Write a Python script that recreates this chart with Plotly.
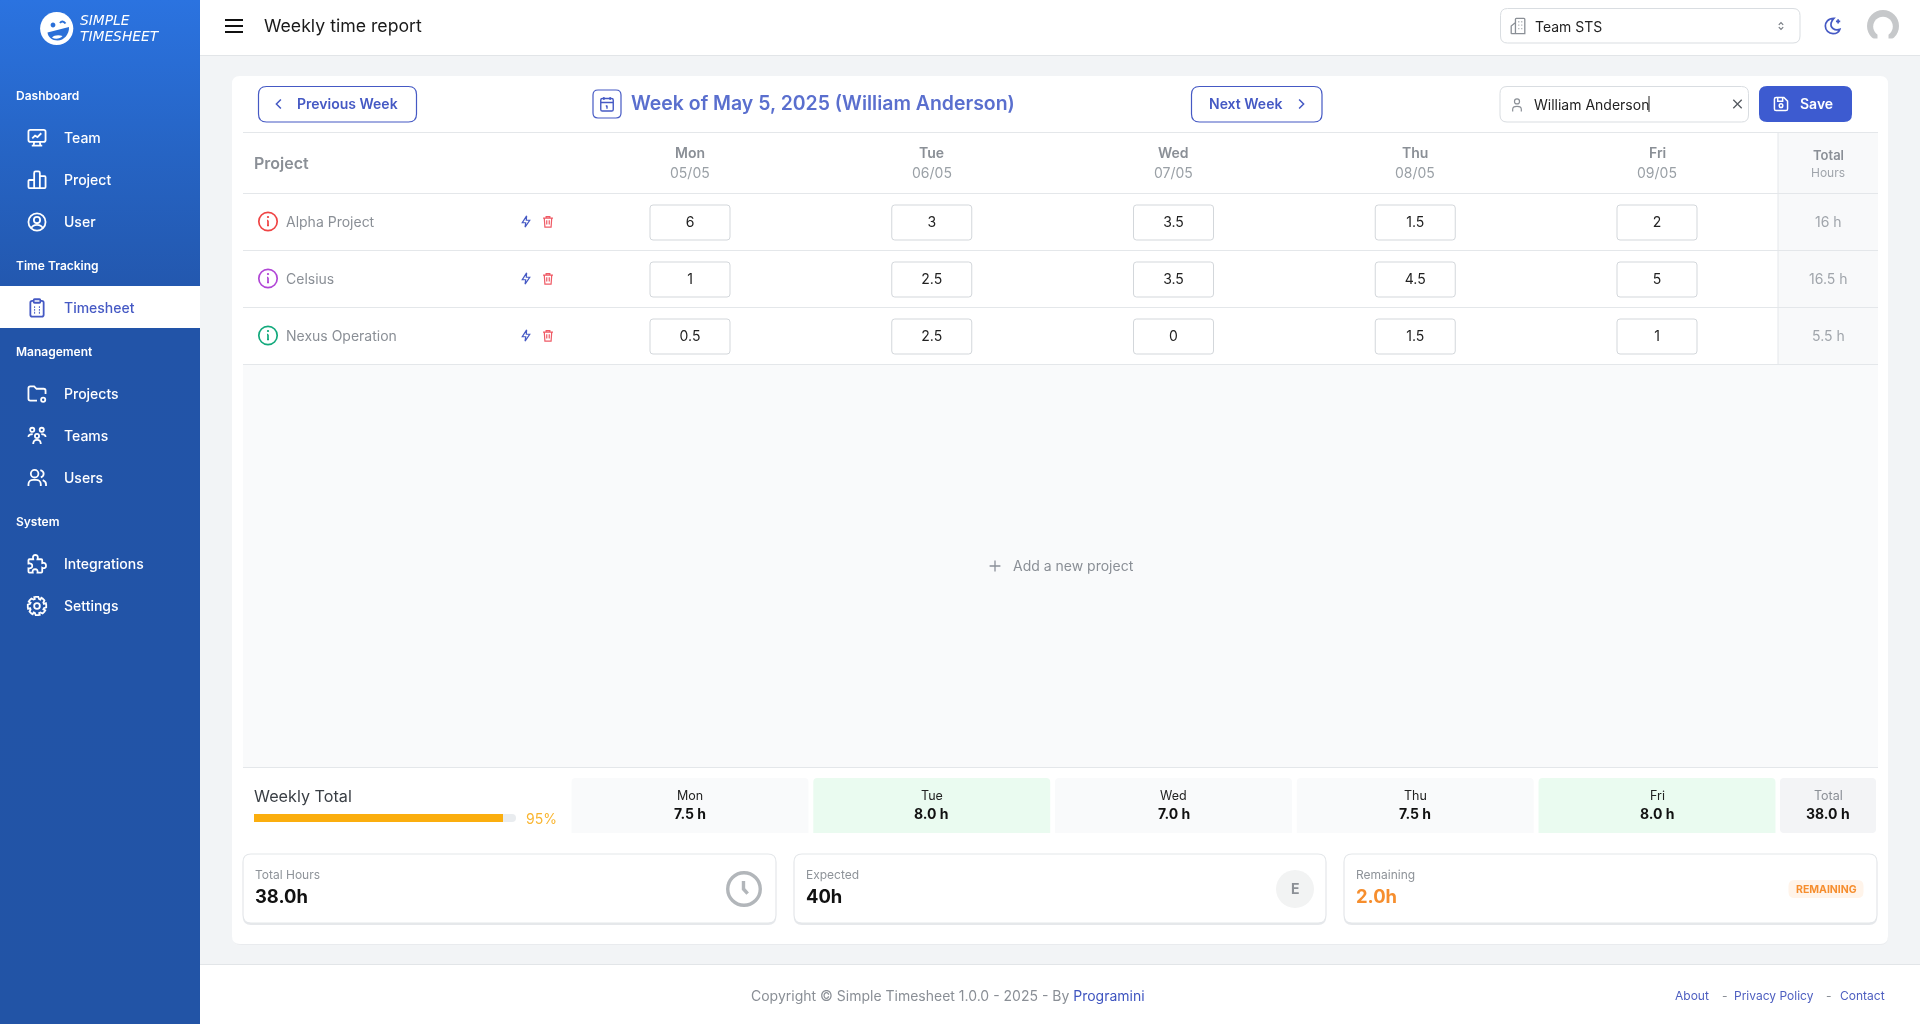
import math
import re
import plotly.graph_objects as go

# chart values
days = ["Mon", "Tue", "Wed", "Thu", "Fri"]
dates = ["05/05", "06/05", "07/05", "08/05", "09/05"]
projects = ["Alpha Project", "Celsius", "Nexus Operation"]
project_colors = ["#EF4444", "#B146D6", "#12A97C"]
alpha_hours = [6, 3, 3.5, 1.5, 2]
celsius_hours = [1, 2.5, 3.5, 4.5, 5]
nexus_hours = [0.5, 2.5, 0, 1.5, 1]
project_totals = ["16 h", "16.5 h", "5.5 h"]
daily_totals = [7.5, 8.0, 7.0, 7.5, 8.0]
week_total = 38.0
expected_hours = 40
remaining_hours = 2.0
percent_done = 95

menu = [
    ("Dashboard", None), ("Team", "team"), ("Project", "bars"), ("User", "user"),
    ("Time Tracking", None), ("Timesheet", "sheet"),
    ("Management", None), ("Projects", "folder"), ("Teams", "teams"), ("Users", "users"),
    ("System", None), ("Integrations", "puzzle"), ("Settings", "gear"),
]
menu_y = [96, 138, 180, 222, 266, 308, 352, 394, 436, 478, 522, 564, 606]

W, H = 1920, 1024
FONT = "Inter"
BLUE = "#4559C4"
LINE = "#E4E7EA"
GREY = "#8A8F96"

shapes = []
notes = []


def xfrac(v):
    return v / W


def yfrac(v):
    return 1 - v / H


def box(x0, y0, x1, y1, r=0, fill=None, line=None, lw=1, layer="below"):
    d = (f"M {x0+r} {y0} L {x1-r} {y0} Q {x1} {y0} {x1} {y0+r} L {x1} {y1-r} Q {x1} {y1} {x1-r} {y1} "
         f"L {x0+r} {y1} Q {x0} {y1} {x0} {y1-r} L {x0} {y0+r} Q {x0} {y0} {x0+r} {y0} Z")
    shapes.append(dict(type="path", path=d, xref="x", yref="y", layer=layer,
                       fillcolor=fill or "rgba(0,0,0,0)",
                       line=dict(color=line or "rgba(0,0,0,0)", width=lw if line else 0)))


def hline(x0, x1, y, color=LINE, lw=1):
    shapes.append(dict(type="line", x0=x0, x1=x1, y0=y, y1=y, xref="x", yref="y", layer="below",
                       line=dict(color=color, width=lw)))


def circ(cx, cy, r):
    k = 0.5523 * r
    return (f"M {cx-r} {cy} C {cx-r} {cy-k} {cx-k} {cy-r} {cx} {cy-r} C {cx+k} {cy-r} {cx+r} {cy-k} {cx+r} {cy} "
            f"C {cx+r} {cy+k} {cx+k} {cy+r} {cx} {cy+r} C {cx-k} {cy+r} {cx-r} {cy+k} {cx-r} {cy} Z ")


def icon(path, cx, cy, s=1.0, color="white", lw=1.6, fill=None, layer="above"):
    # path is written in a 24 box with absolute commands, move it to cx, cy
    tokens = re.findall(r"[A-Za-z]|-?[\d.]+", path)
    out = []
    n = 0
    for t in tokens:
        if t.isalpha():
            out.append(t)
            n = 0
        else:
            base = cx if n % 2 == 0 else cy
            out.append(f"{base + (float(t) - 12) * s:.2f}")
            n += 1
    shapes.append(dict(type="path", path=" ".join(out), xref="x", yref="y", layer=layer,
                       fillcolor=fill or "rgba(0,0,0,0)",
                       line=dict(color=color, width=lw)))


def text(x, y, s, size=14, color="#111111", anchor="left", weight=400, italic=False, yref="y", xref="x",
         family=FONT):
    notes.append(dict(x=x, y=y, xref=xref, yref=yref, text=s, showarrow=False, xanchor=anchor, yanchor="middle",
                      borderpad=0, borderwidth=0, yshift=1,
                      font=dict(family=family, size=size, color=color, weight=weight,
                                style="italic" if italic else "normal")))


ICONS = {
    "team": "M 5 3.5 L 19 3.5 Q 21 3.5 21 5.5 L 21 14 Q 21 16 19 16 L 5 16 Q 3 16 3 14 L 3 5.5 Q 3 3.5 5 3.5 Z "
            "M 7 12.5 L 10 9.5 L 12.5 11 L 16.5 7 M 9 16 L 8.5 20 M 15 16 L 15.5 20 M 6.5 20 L 17.5 20",
    "bars": "M 4 12 L 9 12 L 9 20.5 L 4 20.5 Q 3 20.5 3 19.5 L 3 13 Q 3 12 4 12 Z "
            "M 9 4.5 Q 9 3 10.5 3 L 13.5 3 Q 15 3 15 4.5 L 15 20.5 L 9 20.5 Z "
            "M 15 8 L 20 8 Q 21 8 21 9 L 21 19.5 Q 21 20.5 20 20.5 L 15 20.5 Z",
    "user": circ(12, 12, 9) + circ(12, 10, 3.3) + "M 6 18.6 C 7 16 9.5 15 12 15 C 14.5 15 17 16 18 18.6",
    "sheet": "M 8.5 4.5 L 7 4.5 Q 5 4.5 5 6.5 L 5 19 Q 5 21 7 21 L 17 21 Q 19 21 19 19 L 19 6.5 Q 19 4.5 17 4.5 L 15.5 4.5 "
             "M 9.5 2.8 L 14.5 2.8 Q 15.5 2.8 15.5 3.8 L 15.5 5.5 Q 15.5 6.5 14.5 6.5 L 9.5 6.5 Q 8.5 6.5 8.5 5.5 L 8.5 3.8 Q 8.5 2.8 9.5 2.8 Z "
             "M 9 11 L 10 11 M 14 11 L 15 11 M 9 14 L 10 14 M 14 14 L 15 14 M 9 17 L 10 17 M 14 17 L 15 17",
    "folder": "M 12 19 L 5 19 Q 3 19 3 17 L 3 6 Q 3 4 5 4 L 9 4 L 11.5 6.5 L 19 6.5 Q 21 6.5 21 8.5 L 21 12 "
              + circ(18.5, 18, 2.2),
    "teams": circ(7, 5.5, 2.2) + circ(17, 5.5, 2.2) + circ(12, 12, 2.2)
             + "M 3 13 C 3 10.5 5 10 7.5 10 M 21 13 C 21 10.5 19 10 16.5 10 M 8 20.5 C 8 17 10 16 12 16 C 14 16 16 17 16 20.5",
    "users": circ(9.5, 7.5, 4) + "M 3 20.5 L 3 18.5 C 3 15.5 5.5 14 8 14 L 11 14 C 13.5 14 16 15.5 16 18.5 L 16 20.5 "
             "M 15.5 3.6 C 18 4.3 19 6 19 7.5 C 19 9.3 18 10.6 16 11.3 M 18 14.2 C 20 15 21.5 16.5 21.5 18.5 L 21.5 20.5",
    "puzzle": "M 4 7 L 8 7 C 7 3 9 2.5 10.5 2.5 C 12.5 2.5 13.5 4 12.5 7 L 16.5 7 Q 17.5 7 17.5 8 L 17.5 11 "
              "C 21 10 21.5 12.5 21.5 14 C 21.5 16 19.5 17 17.5 16 L 17.5 20 Q 17.5 21 16.5 21 L 12.5 21 "
              "C 13 18.5 12 17.5 10 17.5 C 8 17.5 7 18.5 7.5 21 L 4 21 Q 3 21 3 20 L 3 16.5 C 6 17 7 15.5 7 14 C 7 12.5 6 11 3 11.5 L 3 8 Q 3 7 4 7 Z",
}
gear = []
for i in range(8):
    a = i * math.pi / 4
    for da, r in [(-0.3, 9.8), (-0.14, 9.8), (0.14, 9.8), (0.3, 7.6), (0.48, 7.6)]:
        gear.append((12 + r * math.cos(a + da), 12 + r * math.sin(a + da)))
ICONS["gear"] = "M " + " L ".join(f"{x:.2f} {y:.2f}" for x, y in gear) + " Z " + circ(12, 12, 3)

# page background and sidebar
box(200, 0, W, 55.5, fill="white")
hline(200, W, 55.5, "#E2E5E8")
box(200, 964.5, W, H, fill="white")
hline(200, W, 964.5, "#E2E5E8")

# sidebar gradient goes through a filled trace, the y axis is flipped so the scale runs bottom to top
sidebar = go.Scatter(x=[0, 200, 200, 0, 0], y=[0, 0, H, H, 0], mode="lines", fill="toself",
                     line=dict(width=0), hoverinfo="skip",
                     fillgradient=dict(type="vertical",
                                       colorscale=[[0, "#2254A6"], [0.68, "#2254A8"], [0.85, "#2664C4"], [1, "#2B73E0"]]))

# logo
LOGO_BLUE = "#2A6FD8"
shapes.append(dict(type="path", path=circ(56.7, 28.5, 16.6), xref="x", yref="y", fillcolor="white", line=dict(width=0)))
shapes.append(dict(type="path", path=circ(53, 25, 2.4), xref="x", yref="y", fillcolor=LOGO_BLUE, line=dict(width=0)))
icon("M 9 9 C 10.5 7 12.5 7 14.5 9.5", 63, 26, 1.0, LOGO_BLUE, 2)
shapes.append(dict(type="path", path="M 47.5 32.5 L 69 27 C 69.5 34 64 40.5 57.5 40.5 C 52 40.5 48 37 47.5 32.5 Z",
                   xref="x", yref="y", fillcolor=LOGO_BLUE, line=dict(width=0)))
shapes.append(dict(type="path", path="M 52 37.5 C 54 35 59 34.5 62.5 36 C 60 39 55 39.5 52 37.5 Z",
                   xref="x", yref="y", fillcolor="white", line=dict(width=0)))
text(80, 21, "SIMPLE", 13.8, "white", italic=True, family="DejaVu Sans")
text(80, 37, "TIMESHEET", 13.8, "white", italic=True, family="DejaVu Sans")

# sidebar menu
box(0, 286, 200, 328, fill="white", layer="above")
for (label, ic), y in zip(menu, menu_y):
    if ic is None:
        text(16, y, label, 12, "white", weight=600)
    else:
        col = BLUE if label == "Timesheet" else "white"
        text(64, y, label, 14, col, weight=500)
        icon(ICONS[ic], 37, y, 0.95, col, 1.8)

# header
for y in [20, 26, 32]:
    shapes.append(dict(type="line", x0=225, x1=243, y0=y, y1=y, xref="x", yref="y", line=dict(color="#111111", width=2)))
text(264, 26, "Weekly time report", 17.7, "#1A1A1A")
box(1500.5, 8.5, 1800, 43, 7, "white", "#D9DDE1")
icon("M 4 21 L 4 12 L 9 8 L 9 21 M 9 21 L 9 4 Q 9 3 10 3 L 19 3 Q 20 3 20 4 L 20 21 Z M 12.5 7 L 13.5 7 M 16 7 L 17 7 M 12.5 11 L 13.5 11 M 16 11 L 17 11 M 12.5 15 L 13.5 15 M 16 15 L 17 15 M 4 21 L 20 21",
     1518, 26, 0.85, "#8A8F96", 1.3)
text(1535, 27, "Team STS", 14, "#222222")
icon("M 8 10 L 12 6 L 16 10 M 8 14 L 12 18 L 16 14", 1781, 26, 0.55, "#777C83", 1.2)
icon("M 13 3 C 6 3 3 8 3 12 C 3 17 7 21 12 21 C 16 21 19 19 20 16 C 14 18 8 14 10 8 C 10.5 6 12 4 13 3 Z M 18 4 L 18 9 M 15.5 6.5 L 20.5 6.5",
     1833, 26, 0.85, BLUE, 1.7)
shapes.append(dict(type="path", path=circ(1883, 26, 16), xref="x", yref="y", fillcolor="#C6C8CA", line=dict(width=0)))
shapes.append(dict(type="path", path=circ(1883, 26.5, 9.8), xref="x", yref="y", fillcolor="white", line=dict(width=0)))
box(1877.5, 32, 1888.5, 39, fill="white", layer="above")
box(1865, 38.5, 1901, 44, fill="white", layer="above")

# main card, shadow first
box(233, 78, 1888, 945, 8, "#E9EBEE")
box(232, 76, 1888, 944, 8, "white")

# top buttons
box(258.5, 86.5, 416.5, 122, 8, "white", BLUE, 1.2)
icon("M 14.5 6 L 8.5 12 L 14.5 18", 279, 104, 0.75, BLUE, 1.5)
text(297, 104, "Previous Week", 14, BLUE, weight=600)
box(593, 90, 621, 118, 5, "white", BLUE, 1.2)
icon("M 6 5 L 18 5 Q 20 5 20 7 L 20 19 Q 20 21 18 21 L 6 21 Q 4 21 4 19 L 4 7 Q 4 5 6 5 Z M 4 10 L 20 10 M 8 3 L 8 7 M 16 3 L 16 7 M 12 14 L 12 18 M 10.5 15 L 12 14",
     607, 104, 0.78, BLUE, 1.4)
text(631, 104, "Week of May 5, 2025 (William Anderson)", 19.45, "#5A6FCE", weight=600)
box(1191.5, 86.5, 1322, 122, 8, "white", BLUE, 1.2)
text(1209, 104, "Next Week", 14, BLUE, weight=600)
icon("M 9.5 6 L 15.5 12 L 9.5 18", 1301, 104, 0.75, BLUE, 1.5)
box(1500, 86.5, 1748.5, 122, 7, "white", "#D9DDE1")
icon(circ(12, 7, 3.5) + "M 6 21 L 6 18 C 6 15 9 14 12 14 C 15 14 18 15 18 18 L 18 21", 1517, 105, 0.72, "#8A8F96", 1.2)
text(1534, 105, "William Anderson", 14, "#222222")
shapes.append(dict(type="line", x0=1649, x1=1649, y0=96, y1=112, xref="x", yref="y", line=dict(color="#222222", width=1)))
icon("M 6 6 L 18 18 M 18 6 L 6 18", 1737.5, 104, 0.7, "#555A60", 1.3)
box(1759, 86, 1852, 122, 8, "#3D5BD0")
icon("M 6 4 L 15.5 4 L 20 8.5 L 20 18 Q 20 20 18 20 L 6 20 Q 4 20 4 18 L 4 6 Q 4 4 6 4 Z M 8 4 L 8 8.5 L 14 8.5 L 14 4 " + circ(12, 14, 2.2),
     1781, 104, 0.82, "white", 1.5)
text(1800, 104, "Save", 14, "white", weight=600)

# table chrome
box(1778, 132.5, 1878, 364.5, fill="#F8F9FA")
box(243, 364.5, 1878, 767.5, fill="#F9FAFB")
for y in [132.5, 193.5, 250.5, 307.5, 364.5, 767.5]:
    hline(243, 1878, y)
shapes.append(dict(type="line", x0=1778, x1=1778, y0=132.5, y1=364.5, xref="x", yref="y", layer="below",
                   line=dict(color=LINE, width=1)))

text(254, 164, "Project", 16, GREY, weight=600)
text(1828, 156, "Total", 13, GREY, "center", 600)
text(1828, 173.5, "Hours", 12, "#A0A5AB", "center")

row_h = 57
for i, name in enumerate(projects):
    y = 193 + row_h * (i + 0.5)
    col = project_colors[i]
    icon(circ(12, 12, 9.2) + "M 12 11 L 12 16 M 11 11 L 12 11 M 11 16 L 13 16", 268, y, 1.0, col, 1.7)
    shapes.append(dict(type="path", path=circ(268, y - 4.5, 1.1), xref="x", yref="y", fillcolor=col, line=dict(width=0)))
    text(286, name, name, 14, GREY, yref="y2")
    icon("M 13 3 L 6 14 L 11.5 14 L 10.5 21 L 18 10 L 12.5 10 Z", 526, y, 0.62, BLUE, 1.2)
    icon("M 4 6.5 L 20 6.5 M 9 6.5 L 9 4 L 15 4 L 15 6.5 M 6 6.5 L 7 21 L 17 21 L 18 6.5 M 10 10 L 10 17 M 14 10 L 14 17",
         548, y, 0.62, "#EF5A65", 1.2)
    text(1828, name, project_totals[i], 14, "#A0A5AB", "center", yref="y2")

# day headers and the hour inputs sit on the days/projects axes
hours = [alpha_hours, celsius_hours, nexus_hours]
for d, dt in zip(days, dates):
    text(d, 153.5, d, 14, GREY, "center", 600, xref="x2")
    text(d, 173, dt, 14, "#9AA0A6", "center", xref="x2")
    for name in projects:
        r = 3
        w, h = 40, 17.5
        path = (f"M {-w+r} {-h} L {w-r} {-h} Q {w} {-h} {w} {-h+r} L {w} {h-r} Q {w} {h} {w-r} {h} "
                f"L {-w+r} {h} Q {-w} {h} {-w} {h-r} L {-w} {-h+r} Q {-w} {-h} {-w+r} {-h} Z")
        shapes.append(dict(type="path", path=path, xref="x2", yref="y2", xsizemode="pixel", ysizemode="pixel",
                           xanchor=d, yanchor=name, layer="below", fillcolor="white",
                           line=dict(color="#D3D7DB", width=1)))

cell_x, cell_y, cell_t = [], [], []
for name, row in zip(projects, hours):
    for d, v in zip(days, row):
        cell_x.append(d)
        cell_y.append(name)
        cell_t.append(f"{v:g}")
# y5 is y2 moved down a pixel so the numbers sit centred in the inputs
cells = go.Scatter(x=cell_x, y=cell_y, text=cell_t, mode="text", xaxis="x2", yaxis="y5", cliponaxis=False,
                   textfont=dict(family=FONT, size=14, color="#222222"), hoverinfo="skip")
# empty trace so the x2/y2 subplot exists and the input boxes draw above the card
cell_anchor = go.Scatter(x=cell_x, y=cell_y, mode="markers", xaxis="x2", yaxis="y2", opacity=0, hoverinfo="skip")

# add project row
icon("M 12 6 L 12 18 M 6 12 L 18 12", 995, 566, 0.9, "#8A9099", 1.3)
text(1013, 566, "Add a new project", 14, GREY)

# weekly total row
text(254, 797, "Weekly Total", 16.2, "#3A3F45")
text(526, 819, f"{percent_done}%", 14, "#F9B530")
track = go.Bar(x=[100], y=[0], orientation="h", xaxis="x3", yaxis="y4", width=1,
               marker=dict(color="#E9ECEF", cornerradius=4, line=dict(width=0)), hoverinfo="skip")
fill_round = go.Bar(x=[percent_done], y=[0], orientation="h", xaxis="x3", yaxis="y4", width=1,
                    marker=dict(color="#FBAE0E", cornerradius=4, line=dict(width=0)), hoverinfo="skip")
fill_end = go.Bar(x=[percent_done - 50], base=[50], y=[0], orientation="h", xaxis="x3", yaxis="y4", width=1,
                  marker=dict(color="#FBAE0E", line=dict(width=0)), hoverinfo="skip")

day_bars = go.Bar(x=days, y=[1] * len(days), xaxis="x2", yaxis="y3", width=0.98, hoverinfo="skip",
                  marker=dict(color=["#EAFBF0" if v >= 8 else "#F9FAFB" for v in daily_totals],
                              cornerradius=4, line=dict(width=0)))
for d, v in zip(days, daily_totals):
    text(d, 796.5, d, 12.5, "#222222", "center", xref="x2")
    text(d, 814.5, f"{v:.1f} h", 14, "#111111", "center", 700, xref="x2")
box(1780, 778, 1876, 833, 4, "#F3F4F6")
text(1828, 796.5, "Total", 12.5, GREY, "center")
text(1828, 814.5, f"{week_total:.1f} h", 14, "#111111", "center", 700)

# stat cards
stat_cards = [(243, 776, "Total Hours", f"{week_total:.1f}h", "#111111"),
              (794, 1326, "Expected", f"{expected_hours}h", "#111111"),
              (1344, 1877, "Remaining", f"{remaining_hours:.1f}h", "#F68E2E")]
for x0, x1, label, val, col in stat_cards:
    box(x0, 856, x1, 925, 8, "#E6E8EB")
    box(x0, 854, x1, 923, 8, "white", "#E4E7EA", 1.2)
    text(x0 + 11.5, 875, label, 12, "#8E9399")
    text(x0 + 11.5, 897, val, 18.4, col, weight=700)
icon(circ(12, 12, 15.5) + "M 11.5 4.5 L 11.5 12 L 15.5 16.5", 744, 889, 1.05, "#B2B6BA", 3.4)
shapes.append(dict(type="path", path=circ(1295, 889, 19), xref="x", yref="y", fillcolor="#F2F3F3", line=dict(width=0)))
text(1295, 889, "E", 14, "#8C9096", "center", 700)
box(1788.5, 880, 1863.5, 898, 6, "#FFF4EA")
text(1826, 890, "REMAINING", 10.5, "#F68E2E", "center", 700)

# footer
text(751, 996, 'Copyright © Simple Timesheet 1.0.0 - 2025 - By <span style="color:#3F55C0">Programini</span>', 14, GREY)
text(1675, 996, "About", 12, "#4E5FC0")
text(1721.5, 996, "-", 12, GREY)
text(1734, 996, "Privacy Policy", 12, "#4E5FC0")
text(1826, 996, "-", 12, GREY)
text(1839.5, 996, "Contact", 12, "#4E5FC0")

fig = go.Figure([sidebar, cell_anchor, day_bars, cells, track, fill_round, fill_end])

hidden = dict(visible=False, showgrid=False, zeroline=False, fixedrange=True)
fig.update_layout(
    width=W, height=H, margin=dict(l=0, r=0, t=0, b=0), showlegend=False, barmode="overlay",
    paper_bgcolor="#F2F4F6", plot_bgcolor="rgba(0,0,0,0)", hovermode=False,
    shapes=shapes, annotations=notes,
    xaxis=dict(range=[0, W], domain=[0, 1], **hidden),
    yaxis=dict(range=[H, 0], domain=[0, 1], **hidden),
    xaxis2=dict(type="category", categoryarray=days, categoryorder="array", range=[-0.5, 4.5],
                domain=[xfrac(690 - 120.875), xfrac(1657 + 120.875)], **hidden),
    yaxis2=dict(type="category", categoryarray=projects, categoryorder="array", range=[2.5, -0.5],
                domain=[yfrac(365), yfrac(194)], **hidden),
    yaxis5=dict(type="category", categoryarray=projects, categoryorder="array", range=[2.5, -0.5],
                domain=[yfrac(366), yfrac(195)], anchor="x2", **hidden),
    yaxis3=dict(range=[0, 1], domain=[yfrac(833), yfrac(778)], anchor="x2", **hidden),
    xaxis3=dict(range=[0, 100], domain=[xfrac(254), xfrac(516)], anchor="y4", **hidden),
    yaxis4=dict(range=[-0.5, 0.5], domain=[yfrac(822), yfrac(814)], anchor="x3", **hidden),
)

fig.write_html("out.html", config=dict(displayModeBar=False),
               post_script="document.body.style.margin='0';document.body.style.overflow='hidden';")
